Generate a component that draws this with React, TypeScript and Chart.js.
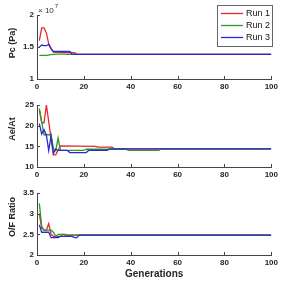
import React, { useEffect, useRef } from "react";
import { Chart, registerables } from "chart.js";
Chart.register(...registerables);

// ---------- data ----------
const runLabels = ["Run 1", "Run 2", "Run 3"];
const runColors = ["#e02a2a", "#2a9a2a", "#2a2ad2"];

// Chamber pressure (x 10^7 Pa)
const pcGens1 = [1, 2, 3, 4, 5, 6, 7, 16, 17, 100];
const pcRun1 = [1.6, 1.8, 1.8, 1.72, 1.55, 1.48, 1.42, 1.41, 1.385, 1.385];
const pcGens2 = [1, 4, 6, 8, 12, 13, 100];
const pcRun2 = [1.37, 1.37, 1.38, 1.39, 1.39, 1.385, 1.385];
const pcGens3 = [1, 2, 3, 4, 5, 6, 7, 14, 15, 100];
const pcRun3 = [1.5, 1.53, 1.52, 1.52, 1.54, 1.47, 1.43, 1.43, 1.385, 1.385];

// Expansion ratio Ae/At
const aeGens1 = [1, 2, 3, 4, 7, 8, 10, 25, 26, 32, 33, 100];
const aeRun1 = [23.8, 20.7, 20.7, 25.0, 12.9, 13.0, 15.1, 15.0, 14.8, 14.8, 14.4, 14.4];
const aeGens2 = [1, 2, 3, 6, 7, 8, 9, 10, 20, 21, 38, 39, 52, 53, 100];
const aeRun2 = [24.2, 21.0, 17.8, 17.8, 14.5, 14.0, 17.0, 14.0, 14.0, 14.3, 14.3, 14.0, 14.0, 14.4, 14.4];
const aeGens3 = [1, 2, 3, 4, 5, 6, 7, 8, 9, 13, 14, 21, 22, 30, 31, 100];
const aeRun3 = [20.5, 18.0, 19.0, 17.7, 14.0, 17.5, 13.3, 14.3, 14.0, 14.0, 13.5, 13.5, 14.0, 14.0, 14.4, 14.4];

// Mixture ratio O/F
const ofGens1 = [1, 2, 3, 4, 5, 6, 7, 10, 11, 12, 100];
const ofRun1 = [3.0, 2.65, 2.6, 2.6, 2.76, 2.5, 2.45, 2.45, 2.5, 2.48, 2.48];
const ofGens2 = [1, 2, 3, 6, 7, 8, 9, 12, 13, 100];
const ofRun2 = [3.25, 2.7, 2.6, 2.6, 2.55, 2.45, 2.5, 2.5, 2.48, 2.48];
const ofGens3 = [1, 2, 5, 6, 9, 10, 15, 16, 17, 18, 100];
const ofRun3 = [2.73, 2.55, 2.55, 2.42, 2.42, 2.45, 2.45, 2.42, 2.42, 2.48, 2.48];

const xMin = 0;
const xMax = 100;
const xStep = 20;

const FONT = "'Liberation Sans', Arial, sans-serif";
const TEXT = "#262626";
const AXIS = "#444444";

function toPoints(gens: number[], vals: number[]) {
  return gens.map((g, i) => ({ x: g, y: vals[i] }));
}

function makeDatasets(series: [number[], number[]][]) {
  return series.map(([g, v], i) => ({
    label: runLabels[i],
    data: toPoints(g, v),
    borderColor: runColors[i],
    backgroundColor: runColors[i],
    borderWidth: 1.3,
    pointRadius: 0,
    tension: 0,
    order: 3 - i,
  }));
}

const inwardTicks = {
  id: "inwardTicks",
  afterDatasetsDraw(chart: any) {
    const { ctx, chartArea } = chart;
    const xs = chart.scales.x;
    const ys = chart.scales.y;
    ctx.save();
    ctx.strokeStyle = AXIS;
    ctx.lineWidth = 1;
    ctx.beginPath();
    xs.ticks.forEach((t: any) => {
      const px = Math.round(xs.getPixelForValue(t.value)) + 0.5;
      ctx.moveTo(px, chartArea.bottom);
      ctx.lineTo(px, chartArea.bottom - 3);
    });
    ys.ticks.forEach((t: any) => {
      const py = Math.round(ys.getPixelForValue(t.value)) + 0.5;
      ctx.moveTo(chartArea.left, py);
      ctx.lineTo(chartArea.left + 3, py);
    });
    ctx.stroke();
    ctx.restore();
  },
};

const yTitleLabel = {
  id: "yTitleLabel",
  afterDraw(chart: any) {
    const opts = chart.options.plugins.yTitleLabel;
    if (!opts || !opts.text) return;
    const { ctx, chartArea } = chart;
    ctx.save();
    ctx.fillStyle = TEXT;
    ctx.font = `bold 9px ${FONT}`;
    ctx.textAlign = "center";
    ctx.textBaseline = "middle";
    ctx.translate(13, (chartArea.top + chartArea.bottom) / 2 - opts.shift);
    ctx.rotate(-Math.PI / 2);
    ctx.fillText(opts.text, 0, 0);
    ctx.restore();
  },
};

const exponentLabel = {
  id: "exponentLabel",
  afterDraw(chart: any) {
    const opts = chart.options.plugins.exponentLabel;
    if (!opts || !opts.show) return;
    const { ctx, chartArea } = chart;
    ctx.save();
    ctx.fillStyle = "#333";
    ctx.textBaseline = "alphabetic";
    ctx.textAlign = "left";
    ctx.font = `8px ${FONT}`;
    const x0 = chartArea.left + 1;
    const y0 = chartArea.top - 2;
    ctx.fillText("× 10", x0, y0);
    const w = ctx.measureText("× 10").width;
    ctx.font = `6px ${FONT}`;
    ctx.fillText("7", x0 + w + 1, y0 - 5);
    ctx.restore();
  },
};

const boxLegend = {
  id: "boxLegend",
  afterDraw(chart: any) {
    const opts = chart.options.plugins.boxLegend;
    if (!opts || !opts.show) return;
    const { ctx } = chart;
    const left = 217.5, top = 5.5, w = 55, h = 41;
    ctx.save();
    ctx.fillStyle = "#ffffff";
    ctx.fillRect(left, top, w, h);
    ctx.strokeStyle = "#666";
    ctx.lineWidth = 1;
    ctx.strokeRect(left, top, w, h);
    ctx.font = `9px ${FONT}`;
    ctx.textBaseline = "middle";
    ctx.textAlign = "left";
    chart.data.datasets.forEach((ds: any, i: number) => {
      const y = top + 8 + i * 12;
      ctx.strokeStyle = ds.borderColor;
      ctx.lineWidth = 1.3;
      ctx.beginPath();
      ctx.moveTo(221, y);
      ctx.lineTo(243, y);
      ctx.stroke();
      ctx.fillStyle = "#111";
      ctx.fillText(ds.label, 246, y + 0.5);
    });
    ctx.restore();
  },
};

type PanelCfg = {
  datasets: any[];
  yMin: number;
  yMax: number;
  yStep: number;
  yTitle: string;
  yTitleShift: number;
  padTop: number;
  padBottom: number;
  xAxisHeight: number;
  xTitle?: string;
  exponent?: boolean;
  legend?: boolean;
};

function makeConfig(p: PanelCfg): any {
  return {
    type: "line",
    data: { datasets: p.datasets },
    plugins: [inwardTicks, yTitleLabel, exponentLabel, boxLegend],
    options: {
      animation: false,
      responsive: false,
      events: [],
      layout: { padding: { top: p.padTop, bottom: p.padBottom, left: 0, right: 9 } },
      plugins: {
        legend: { display: false },
        tooltip: { enabled: false },
        yTitleLabel: { text: p.yTitle, shift: p.yTitleShift },
        exponentLabel: { show: !!p.exponent },
        boxLegend: { show: !!p.legend },
      },
      scales: {
        x: {
          type: "linear",
          min: xMin,
          max: xMax,
          afterFit: (s: any) => {
            s.height = p.xAxisHeight;
          },
          ticks: {
            stepSize: xStep,
            color: TEXT,
            padding: 3,
            maxRotation: 0,
            font: { family: FONT, size: 8, weight: "bold" },
          },
          grid: { display: true, drawOnChartArea: false, drawTicks: false },
          border: { display: true, color: AXIS, width: 1 },
          title: p.xTitle
            ? {
                display: true,
                text: p.xTitle,
                color: TEXT,
                padding: { top: 0, bottom: 1 },
                font: { family: FONT, size: 10, weight: "bold" },
              }
            : { display: false },
        },
        y: {
          type: "linear",
          min: p.yMin,
          max: p.yMax,
          afterFit: (s: any) => {
            s.width = 37;
          },
          ticks: {
            stepSize: p.yStep,
            color: TEXT,
            padding: 3,
            font: { family: FONT, size: 8, weight: "bold" },
            callback: (v: any) => String(Math.round(Number(v) * 100) / 100),
          },
          grid: { display: true, drawOnChartArea: false, drawTicks: false },
          border: { display: true, color: AXIS, width: 1 },
          title: { display: false },
        },
      },
    },
  };
}

function Panel({ cfg }: { cfg: PanelCfg }) {
  const ref = useRef<HTMLCanvasElement | null>(null);
  useEffect(() => {
    if (!ref.current) return;
    const chart = new Chart(ref.current, makeConfig(cfg));
    return () => chart.destroy();
  }, []);
  return (
    <canvas
      ref={ref}
      width={281}
      height={281}
      style={{ position: "absolute", left: 0, top: 0, width: 281, height: 281 }}
    />
  );
}

export default function App() {
  const panels: PanelCfg[] = [
    {
      datasets: makeDatasets([
        [pcGens1, pcRun1],
        [pcGens2, pcRun2],
        [pcGens3, pcRun3],
      ]),
      yMin: 1,
      yMax: 2,
      yStep: 0.5,
      yTitle: "Pc (Pa)",
      yTitleShift: 4,
      padTop: 15,
      padBottom: 188,
      xAxisHeight: 14,
      exponent: true,
      legend: true,
    },
    {
      datasets: makeDatasets([
        [aeGens1, aeRun1],
        [aeGens2, aeRun2],
        [aeGens3, aeRun3],
      ]),
      yMin: 10,
      yMax: 25,
      yStep: 5,
      yTitle: "Ae/At",
      yTitleShift: 7,
      padTop: 105,
      padBottom: 100,
      xAxisHeight: 14,
    },
    {
      datasets: makeDatasets([
        [ofGens1, ofRun1],
        [ofGens2, ofRun2],
        [ofGens3, ofRun3],
      ]),
      yMin: 2,
      yMax: 3.5,
      yStep: 0.5,
      yTitle: "O/F Ratio",
      yTitleShift: 7,
      padTop: 193,
      padBottom: 0,
      xAxisHeight: 26,
      xTitle: "Generations",
    },
  ];
  return (
    <div style={{ position: "absolute", left: 0, top: 0, width: 281, height: 281, background: "#fff" }}>
      {panels.map((p, i) => (
        <Panel key={i} cfg={p} />
      ))}
    </div>
  );
}
